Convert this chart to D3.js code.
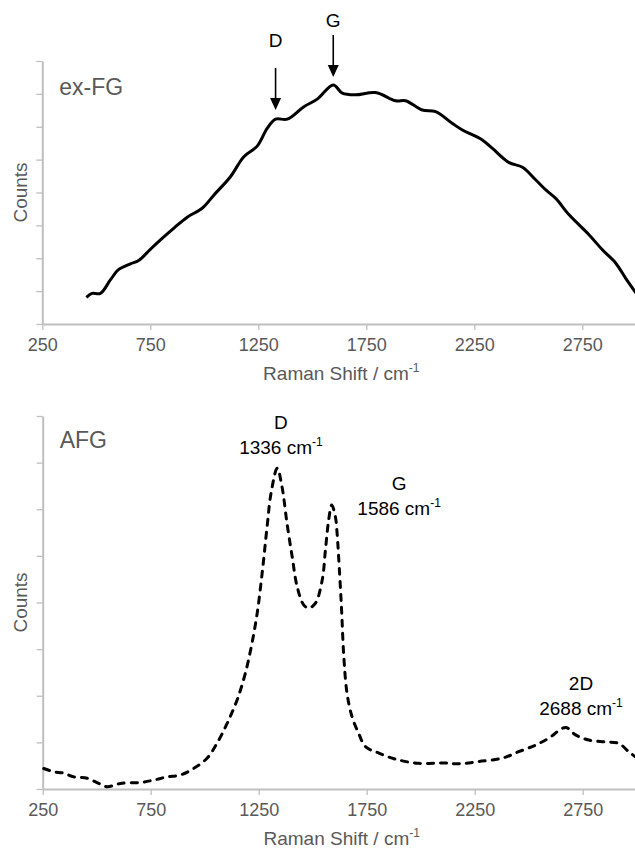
<!DOCTYPE html>
<html>
<head>
<meta charset="utf-8">
<script src="https://cdn.jsdelivr.net/npm/d3@7/dist/d3.min.js"></script>
<style>
  html, body { margin: 0; padding: 0; background: #fff; }
  svg { display: block; }
  text { font-family: "Liberation Sans", Arial, sans-serif; }
</style>
</head>
<body>
<svg id="chart" width="635" height="852"></svg>
<script>
// ---------------- data ----------------
const xTickValues = [250, 750, 1250, 1750, 2250, 2750];
const xDomain = [250, 3000];
const yDomain = [0, 8];
const yTickValues = [0, 1, 2, 3, 4, 5, 6, 7, 8];

// ex-FG spectrum (Raman shift cm-1, counts in arbitrary units)
const exfgShift = [454, 480, 519, 565, 604, 658, 696, 750, 797, 858, 921, 990, 1044, 1121, 1183, 1245, 1291, 1330, 1384, 1461, 1523, 1597, 1639, 1700, 1793, 1886, 1932, 2009, 2071, 2149, 2195, 2287, 2334, 2411, 2473, 2535, 2581, 2627, 2689, 2782, 2844, 2905, 2951, 3000];
const exfgCounts = [0.81, 0.93, 0.93, 1.34, 1.66, 1.83, 1.93, 2.27, 2.56, 2.91, 3.25, 3.52, 3.92, 4.48, 5.09, 5.41, 5.95, 6.23, 6.23, 6.61, 6.84, 7.27, 7.02, 6.97, 7.04, 6.79, 6.79, 6.51, 6.46, 6.10, 5.90, 5.60, 5.34, 4.91, 4.77, 4.38, 4.08, 3.82, 3.32, 2.71, 2.25, 1.85, 1.39, 0.93];

// AFG spectrum
const afgShift = [255, 301, 347, 394, 456, 509, 548, 610, 702, 764, 826, 887, 949, 1011, 1057, 1104, 1150, 1188, 1219, 1243, 1266, 1289, 1307, 1336, 1358, 1381, 1405, 1428, 1458, 1481, 1512, 1544, 1559, 1574, 1588, 1605, 1613, 1620, 1633, 1644, 1659, 1682, 1713, 1744, 1806, 1883, 1991, 2099, 2176, 2269, 2377, 2454, 2531, 2593, 2671, 2717, 2778, 2855, 2917, 2963, 2994];
const afgCounts = [0.44, 0.37, 0.34, 0.26, 0.23, 0.12, 0.05, 0.12, 0.14, 0.19, 0.26, 0.30, 0.44, 0.66, 0.98, 1.41, 1.91, 2.48, 3.13, 3.77, 4.63, 5.63, 6.34, 6.88, 6.48, 5.70, 4.98, 4.34, 3.95, 3.88, 3.98, 4.48, 5.13, 5.77, 6.09, 5.84, 5.48, 4.98, 3.91, 2.84, 2.05, 1.55, 1.19, 0.91, 0.77, 0.64, 0.55, 0.56, 0.54, 0.59, 0.66, 0.80, 0.94, 1.09, 1.32, 1.16, 1.05, 1.01, 0.98, 0.80, 0.69];

const xTitle = "Raman Shift / cm";
const yTitle = "Counts";
const topPanelLabel = "ex-FG";
const bottomPanelLabel = "AFG";
const topArrowLabels = ["D", "G"];
const topArrowShift = [1330, 1597];
const bottomPeakLabels = ["D", "G", "2D"];
const bottomPeakValues = ["1336", "1586", "2688"];

// ---------------- drawing ----------------
const svg = d3.select("#chart");
const axisColor = "#bfbfbf";
const textGray = "#595959";

function panel(cfg) {
  const x = d3.scaleLinear().domain(xDomain).range([cfg.left, cfg.right]);
  const y = d3.scaleLinear().domain(yDomain).range([cfg.bottom, cfg.top]);
  const g = svg.append("g");

  // x axis
  const xa = g.append("g")
    .attr("transform", `translate(0,${cfg.bottom})`)
    .call(d3.axisBottom(x).tickValues(xTickValues).tickFormat(d3.format("d"))
      .tickSize(6).tickSizeOuter(0).tickPadding(8));
  xa.select(".domain").attr("stroke", axisColor).attr("stroke-width", 2);
  xa.selectAll(".tick line").attr("stroke", axisColor).attr("stroke-width", 1.3);
  xa.selectAll(".tick text").attr("fill", textGray).attr("font-size", 18)
    .attr("font-family", '"Liberation Sans", Arial, sans-serif');

  // y axis
  const ya = g.append("g")
    .attr("transform", `translate(${cfg.left},0)`)
    .call(d3.axisLeft(y).tickValues(yTickValues).tickSize(6).tickSizeOuter(0).tickFormat(""));
  ya.select(".domain").attr("stroke", axisColor).attr("stroke-width", 2);
  ya.selectAll(".tick line").attr("stroke", axisColor).attr("stroke-width", 1.3);

  // x title
  const xt = g.append("text")
    .attr("x", (cfg.left + cfg.right) / 2 + 2)
    .attr("y", cfg.bottom + 56)
    .attr("text-anchor", "middle")
    .attr("fill", textGray)
    .attr("font-size", 19);
  xt.append("tspan").text(xTitle);
  xt.append("tspan").attr("font-size", 12).attr("dy", -8).text("-1");

  // y title
  g.append("text")
    .attr("transform", `translate(27,${(cfg.top + cfg.bottom) / 2}) rotate(-90)`)
    .attr("text-anchor", "middle")
    .attr("fill", textGray)
    .attr("font-size", 19)
    .text(yTitle);

  // panel label
  g.append("text")
    .attr("x", cfg.left + 17)
    .attr("y", cfg.top + cfg.labelDy)
    .attr("fill", textGray)
    .attr("font-size", 23)
    .text(cfg.label);

  // line
  const data = d3.zip(cfg.xs, cfg.ys);
  const line = d3.line().x(d => x(d[0])).y(d => y(d[1])).curve(d3.curveCatmullRom.alpha(0.5));
  const p = g.append("path")
    .datum(data)
    .attr("fill", "none")
    .attr("stroke", "#000")
    .attr("stroke-width", 3)
    .attr("stroke-linejoin", "round")
    .attr("d", line);
  if (cfg.dash) p.attr("stroke-dasharray", cfg.dash).attr("stroke-linecap", "round");

  return { x, y, g };
}

const topPanel = panel({
  left: 42.3, right: 636.3, top: 61, bottom: 324,
  xs: exfgShift, ys: exfgCounts, label: topPanelLabel, labelDy: 34, dash: null
});

const botPanel = panel({
  left: 42.7, right: 636.7, top: 416, bottom: 789,
  xs: afgShift, ys: afgCounts, label: bottomPanelLabel, labelDy: 32, dash: "6,7"
});

// top arrows with labels
const arrowGeom = [
  { labelY: 47, y1: 68, y2: 110 },
  { labelY: 27, y1: 35, y2: 77 }
];
topArrowLabels.forEach((lab, i) => {
  const ax = topPanel.x(topArrowShift[i]);
  const gm = arrowGeom[i];
  topPanel.g.append("text")
    .attr("x", ax).attr("y", gm.labelY)
    .attr("text-anchor", "middle")
    .attr("fill", "#000")
    .attr("font-size", 19)
    .text(lab);
  topPanel.g.append("line")
    .attr("x1", ax).attr("x2", ax)
    .attr("y1", gm.y1).attr("y2", gm.y2 - 10)
    .attr("stroke", "#000").attr("stroke-width", 1.6);
  topPanel.g.append("path")
    .attr("d", `M${ax - 5.5},${gm.y2 - 12} L${ax + 5.5},${gm.y2 - 12} L${ax},${gm.y2} Z`)
    .attr("fill", "#000");
});

// bottom peak labels
const peakGeom = [
  { shift: 1353, y: 429 },
  { shift: 1900, y: 490 },
  { shift: 2742, y: 690 }
];
bottomPeakLabels.forEach((lab, i) => {
  const px = botPanel.x(peakGeom[i].shift);
  botPanel.g.append("text")
    .attr("x", px).attr("y", peakGeom[i].y)
    .attr("text-anchor", "middle")
    .attr("fill", "#000")
    .attr("font-size", 19)
    .text(lab);
  const t2 = botPanel.g.append("text")
    .attr("x", px).attr("y", peakGeom[i].y + 24.5)
    .attr("text-anchor", "middle")
    .attr("fill", "#000")
    .attr("font-size", 19);
  t2.append("tspan").text(bottomPeakValues[i] + " cm");
  t2.append("tspan").attr("font-size", 12).attr("dy", -8).text("-1");
});
</script>
</body>
</html>
